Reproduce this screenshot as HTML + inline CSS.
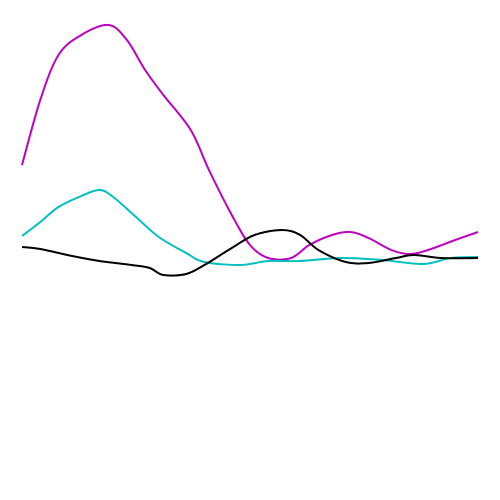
<!DOCTYPE html>
<html><head><meta charset="utf-8"><style>html,body{margin:0;padding:0;background:#fff}svg{display:block}</style></head>
<body>
<svg id="chart" width="500" height="500" viewBox="0 0 500 500"></svg>
<script>
const magentaX = [0,4,8,13,19,23,27,31,37,41,46,50,54,59,63,68,72,76,81,85,89,95,100];
const magentaY = [67,80,89,93,95,92,86,81,74,66,57,51,48.4,48.4,51,53,53.6,52.4,50,49.2,50,52,53.6];
const cyanX = [0,4,8,13,17,20,25,30,36,40,48,54,61,70,79,88,94,100];
const cyanY = [52.8,55.6,58.6,60.8,62,60.6,56.6,52.6,49.4,47.6,47,47.8,47.8,48.4,48,47.2,48.4,48.6];
const blackX = [0,4,11,17,24,28,31,36,40,46,51,57,61,65,71,76,82,86,92,100];
const blackY = [50.6,50.2,48.8,47.8,47,46.4,45,45.2,47,50.4,53,54,53,50,47.6,47.4,48.4,49,48.4,48.4];
const colors = {magenta:'#bf00bf', cyan:'#00bfbf', black:'#000000'};
const xScale = t => 22 + t * 4.56;
const yScale = v => 500 - v * 5;
function pathFor(xs, ys){
  const p = xs.map((x,i)=>[xScale(x), yScale(ys[i])]);
  let d = `M${p[0][0]},${p[0][1]}`;
  for(let i=0;i<p.length-1;i++){
    const p0=p[i-1]||p[i], p1=p[i], p2=p[i+1], p3=p[i+2]||p2;
    const c1=[p1[0]+(p2[0]-p0[0])/6, p1[1]+(p2[1]-p0[1])/6];
    const c2=[p2[0]-(p3[0]-p1[0])/6, p2[1]-(p3[1]-p1[1])/6];
    d+=` C${c1[0]},${c1[1]} ${c2[0]},${c2[1]} ${p2[0]},${p2[1]}`;
  }
  return d;
}
const svg = document.getElementById('chart');
const series = [['magenta',magentaX,magentaY],['cyan',cyanX,cyanY],['black',blackX,blackY]];
series.forEach(([name,xs,ys])=>{
  const el = document.createElementNS('http://www.w3.org/2000/svg','path');
  el.setAttribute('d', pathFor(xs,ys));
  el.setAttribute('fill','none');
  el.setAttribute('stroke',colors[name]);
  el.setAttribute('stroke-width','2');
  
  
  svg.appendChild(el);
});
</script>
</body></html>
